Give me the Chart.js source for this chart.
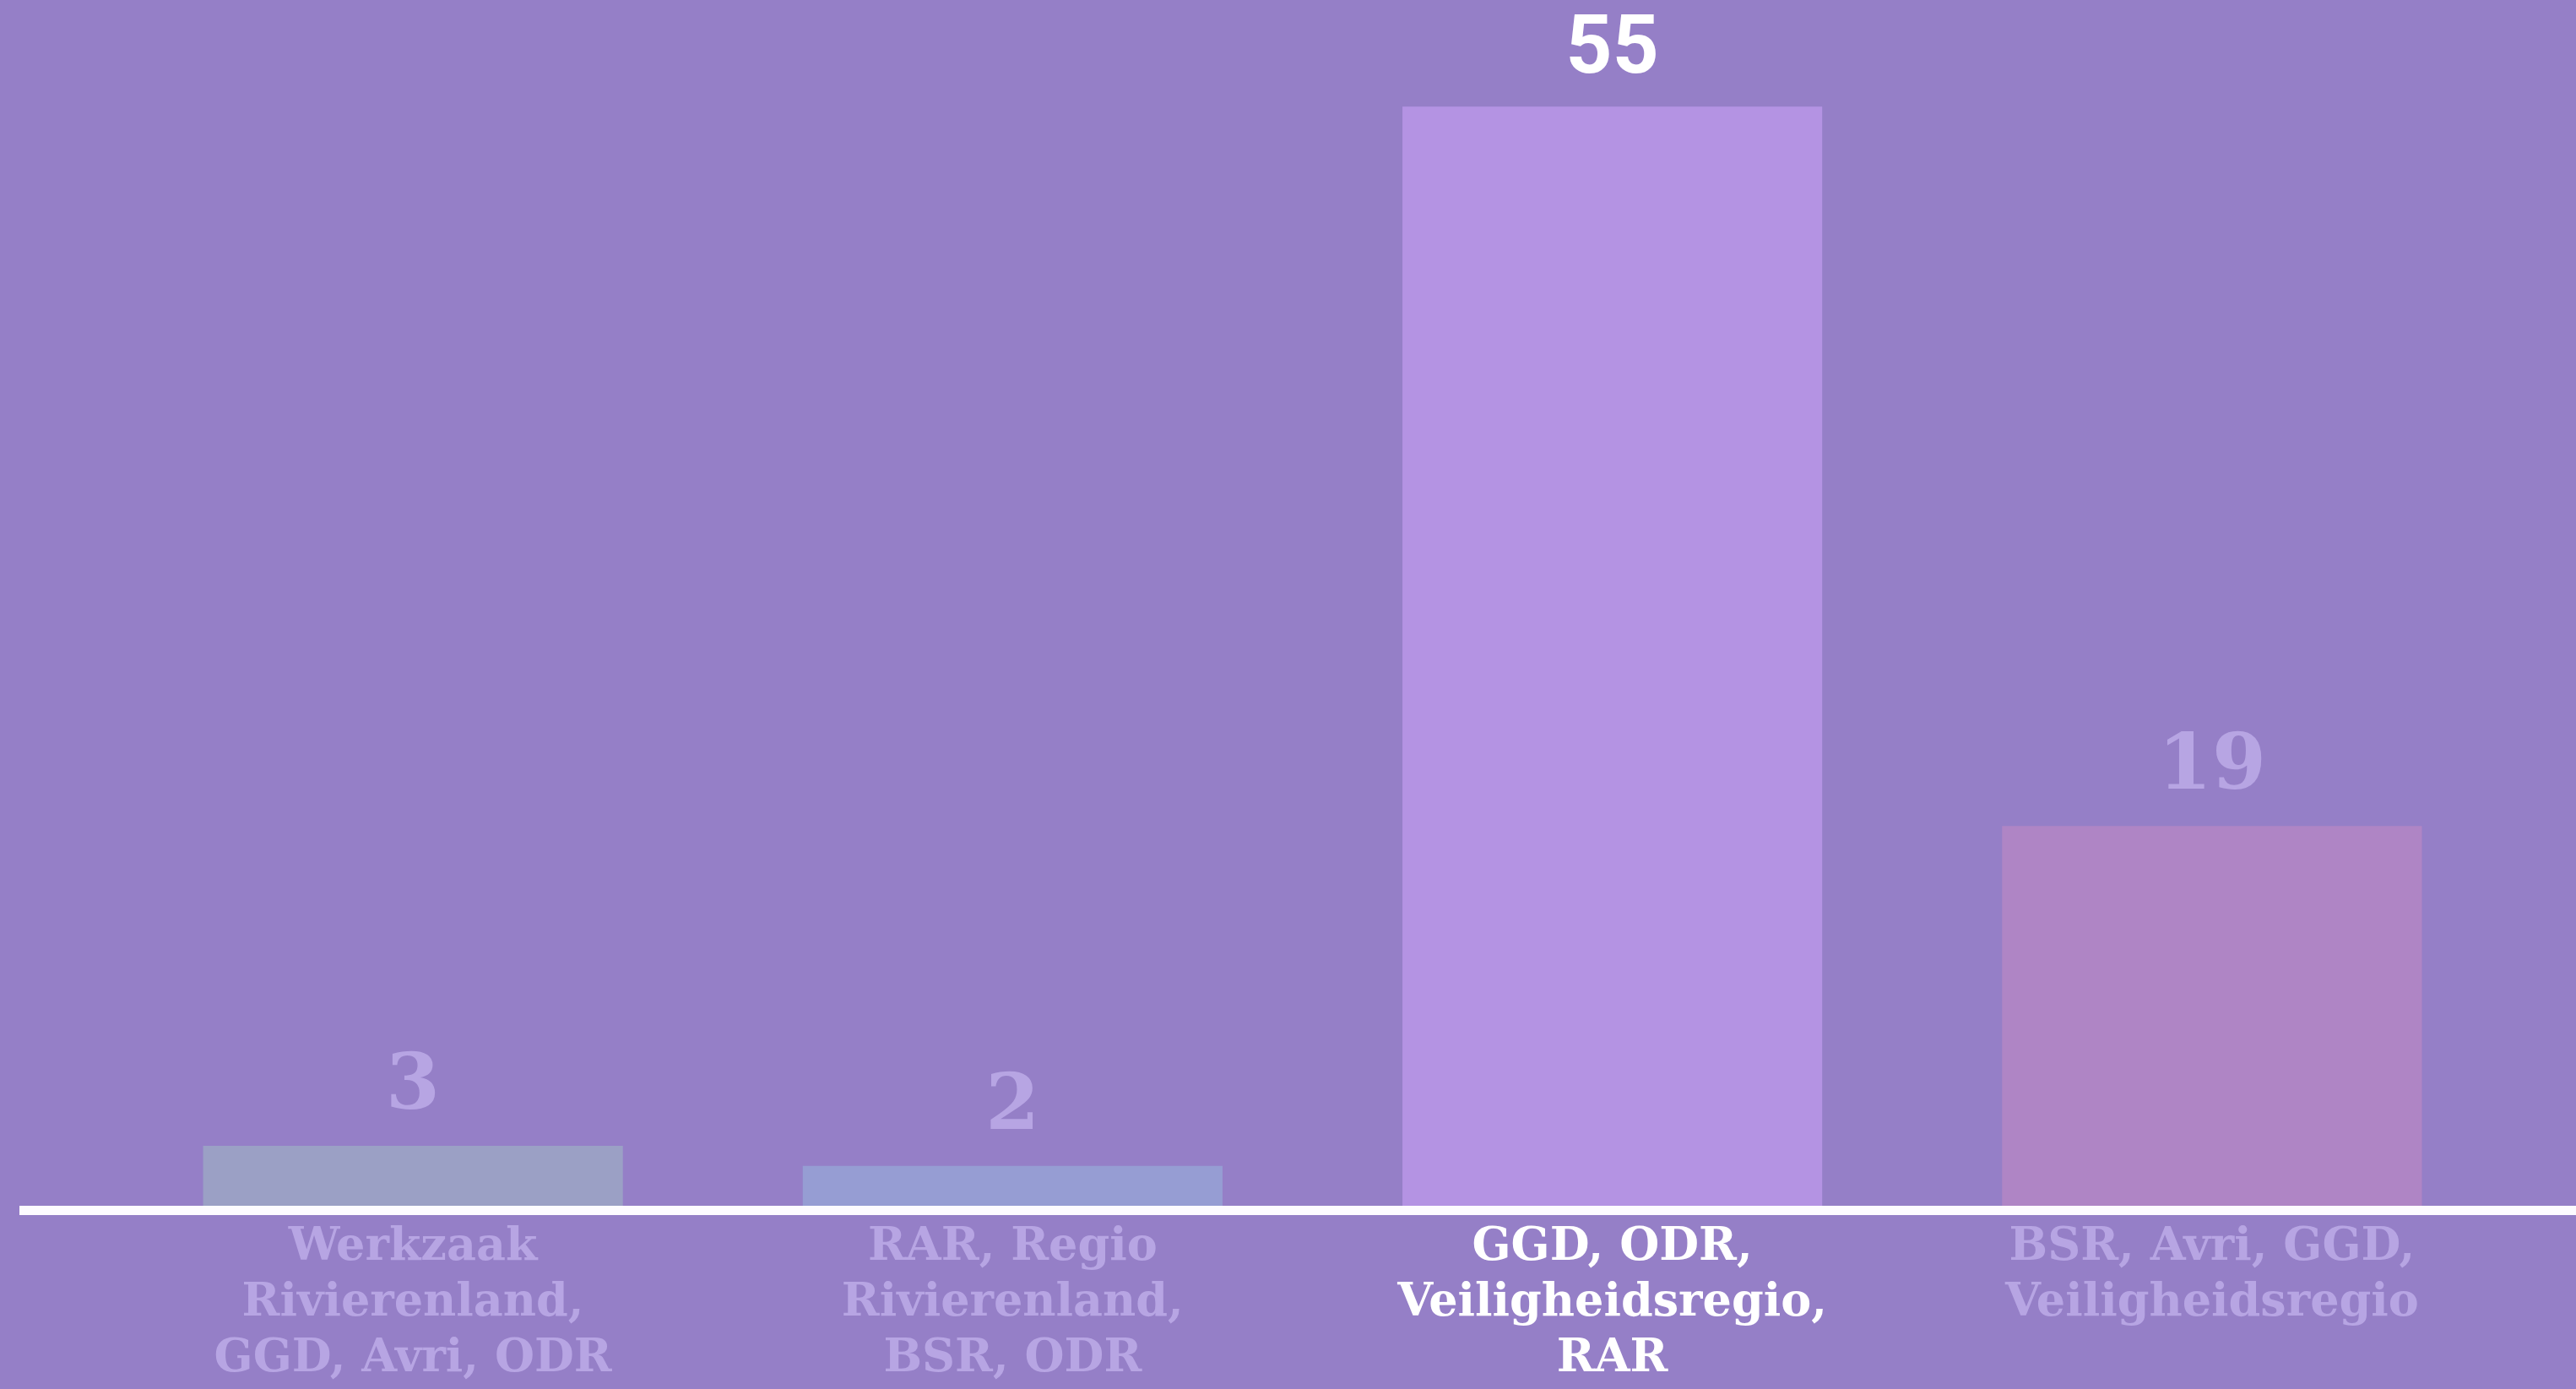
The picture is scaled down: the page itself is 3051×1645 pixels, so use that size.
<!DOCTYPE html>
<html>
<head>
<meta charset="utf-8">
<script src="https://cdn.jsdelivr.net/npm/chart.js@4.4.1/dist/chart.umd.min.js"></script>
<style>
  html, body { margin: 0; padding: 0; background: #957fc7; }
  canvas { display: block; }
</style>
</head>
<body>
<canvas id="mycanvas" width="3051" height="1645"></canvas>
<script>
// categories (one array per tick, one string per line)
var categories = [
  ['Werkzaak', 'Rivierenland,', 'GGD, Avri, ODR'],
  ['RAR, Regio', 'Rivierenland,', 'BSR, ODR'],
  ['GGD, ODR,', 'Veiligheidsregio,', 'RAR'],
  ['BSR, Avri, GGD,', 'Veiligheidsregio']
];
var values = [3, 2, 55, 19];
var highlight = 2; // the category shown in white

var barColors = ['#9ba0c5', '#969dd3', '#b493e3', '#af85c5'];
var dimText = '#b7a5e3';

// value labels above the bars + the white base line
var decorations = {
  id: 'decorations',
  afterDatasetsDraw: function(chart) {
    var ctx = chart.ctx;
    var y0 = chart.scales.y.getPixelForValue(0);
    ctx.save();
    ctx.fillStyle = '#fdfbff';
    ctx.fillRect(23, y0, chart.width - 23, 11);

    var meta = chart.getDatasetMeta(0);
    ctx.textAlign = 'center';
    ctx.textBaseline = 'middle';
    meta.data.forEach(function(bar, i) {
      if (i === highlight) {
        ctx.font = 'bold 96px Roboto';
        ctx.fillStyle = '#ffffff';
        ctx.fillText(String(values[i]), bar.x, bar.y - 64);
      } else {
        ctx.font = 'bold 92px "DejaVu Serif"';
        ctx.fillStyle = dimText;
        ctx.fillText(String(values[i]), bar.x, bar.y - 68);
      }
    });
    ctx.restore();
  }
};

var ctx = document.getElementById('mycanvas').getContext('2d');
var chart = new Chart(ctx, {
  type: 'bar',
  data: {
    labels: categories,
    datasets: [{
      data: values,
      backgroundColor: barColors,
      borderWidth: 0,
      categoryPercentage: 0.7,
      barPercentage: 1.0
    }]
  },
  options: {
    responsive: false,
    animation: false,
    layout: { padding: { top: 8, left: 134, right: 76, bottom: 0 } },
    plugins: {
      legend: { display: false },
      tooltip: { enabled: false }
    },
    scales: {
      x: {
        grid: { display: false, drawTicks: false },
        border: { display: false },
        afterFit: function(scale) { scale.height = 217; },
        ticks: {
          autoSkip: false,
          maxRotation: 0,
          padding: 17,
          font: { family: '"DejaVu Serif"', size: 54, weight: 'bold', lineHeight: 1.22 },
          color: function(c) { return c.index === highlight ? '#ffffff' : dimText; }
        }
      },
      y: {
        display: false,
        min: 0,
        max: 60
      }
    }
  },
  plugins: [decorations]
});
</script>
</body>
</html>
